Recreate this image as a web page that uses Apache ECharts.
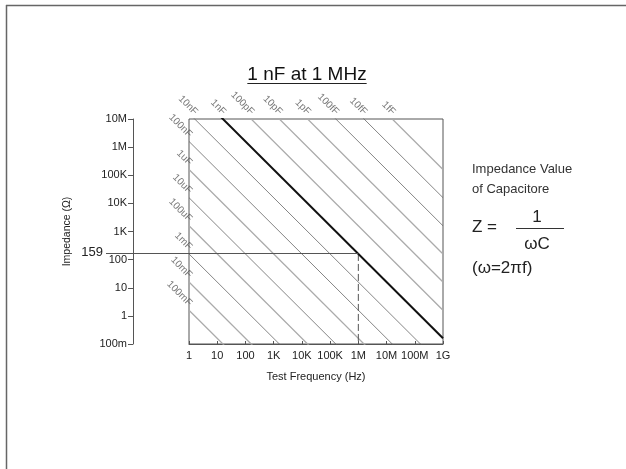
<!DOCTYPE html>
<html>
<head>
<meta charset="utf-8">
<script src="https://cdn.jsdelivr.net/npm/echarts@6/dist/echarts.min.js"></script>
<style>
  html, body { margin: 0; padding: 0; background: #fff; }
  #chart { width: 626px; height: 469px; }
</style>
</head>
<body>
<div id="chart"></div>
<script>
// ---- data ----
const titleText = '1 nF at 1 MHz';
const xTickLabels = ['1', '10', '100', '1K', '10K', '100K', '1M', '10M', '100M', '1G'];
const yTickLabels = ['100m', '1', '10', '100', '1K', '10K', '100K', '1M', '10M'];
const freqRange = [1, 1e9];
const impedanceRange = [0.1, 1e7];
const capValues = [1e-15, 1e-14, 1e-13, 1e-12, 1e-11, 1e-10, 1e-9, 1e-8, 1e-7, 1e-6, 1e-5, 1e-4, 1e-3, 1e-2, 1e-1];
const capLabels = ['1fF', '10fF', '100fF', '1pF', '10pF', '100pF', '1nF', '10nF', '100nF', '1uF', '10uF', '100uF', '1mF', '10mF', '100mF'];
const capTone = ['light', 'dark', 'dark', 'light', 'light', 'light', 'bold', 'dark', 'dark', 'light', 'dark', 'light', 'dark', 'light', 'light'];
const markCap = 1e-9;      // 1 nF
const markFreq = 1e6;      // 1 MHz
const markLabel = '159';
const sideLines = ['Impedance Value', 'of Capacitore'];

// ---- helpers ----
const FONT = '"Liberation Sans", Arial, Helvetica, sans-serif';
function impedance(f, c) { return 1 / (2 * Math.PI * f * c); }

const toneStyle = {
  light: { color: '#ababab', width: 1.3 },
  dark: { color: '#666', width: 0.8 },
  bold: { color: '#111', width: 2 }
};

const series = [];
const labelPoints = [];
capValues.forEach(function (c, i) {
  series.push({
    type: 'line',
    data: [[freqRange[0], impedance(freqRange[0], c)], [freqRange[1], impedance(freqRange[1], c)]],
    symbol: 'none',
    clip: true,
    silent: true,
    lineStyle: { color: toneStyle[capTone[i]].color, width: toneStyle[capTone[i]].width },
    z: capTone[i] === 'bold' ? 5 : 2
  });
  const fTop = 1 / (2 * Math.PI * impedanceRange[1] * c);
  let pt;
  if (fTop >= freqRange[0]) pt = [fTop, impedanceRange[1]];
  else pt = [freqRange[0], impedance(freqRange[0], c)];
  labelPoints.push({ value: pt, name: capLabels[i] });
});

const markZ = impedance(markFreq, markCap);

series.push({
  type: 'scatter',
  data: labelPoints,
  symbolSize: 0,
  clip: false,
  silent: true,
  label: {
    show: true,
    formatter: function (p) { return p.name; },
    position: 'inside',
    rotate: -45,
    align: 'right',
    verticalAlign: 'bottom',
    offset: [-3, 0],
    fontFamily: FONT,
    fontSize: 10,
    color: '#555'
  },
  z: 6
});

series.push({
  type: 'line',
  data: [[markFreq, markZ], [markFreq, impedanceRange[0]]],
  symbol: 'none',
  silent: true,
  lineStyle: { color: '#555', width: 1, type: [7, 3] },
  z: 4
});

const chart = echarts.init(document.getElementById('chart'), null, { renderer: 'canvas' });

chart.setOption({
  animation: false,
  backgroundColor: '#fff',
  grid: {
    left: 189, top: 119, width: 254, height: 225,
    show: true, borderColor: '#555', borderWidth: 1, backgroundColor: 'transparent'
  },
  xAxis: {
    type: 'log', logBase: 10, min: freqRange[0], max: freqRange[1],
    axisLine: { show: true, lineStyle: { color: '#555', width: 1 } },
    axisTick: { show: true, inside: true, length: 3, lineStyle: { color: '#555' } },
    splitLine: { show: false },
    minorTick: { show: false },
    axisLabel: {
      margin: 6, fontFamily: FONT, fontSize: 11, color: '#222',
      formatter: function (v) { return xTickLabels[Math.round(Math.log10(v))]; }
    },
    name: 'Test Frequency (Hz)', nameLocation: 'middle', nameGap: 27,
    nameTextStyle: { fontFamily: FONT, fontSize: 11, color: '#222' }
  },
  yAxis: {
    type: 'log', logBase: 10, min: impedanceRange[0], max: impedanceRange[1],
    position: 'left', offset: 56,
    axisLine: { show: true, lineStyle: { color: '#555', width: 1 } },
    axisTick: { show: true, inside: false, length: 5, lineStyle: { color: '#555' } },
    splitLine: { show: false },
    minorTick: { show: false },
    axisLabel: {
      margin: 6, fontFamily: FONT, fontSize: 11, color: '#222',
      formatter: function (v) { return yTickLabels[Math.round(Math.log10(v)) + 1]; }
    },
    name: 'Impedance (\u03a9)', nameLocation: 'middle', nameGap: 60, nameRotate: 90,
    nameTextStyle: { fontFamily: FONT, fontSize: 10.5, color: '#222' }
  },
  series: series
});

const pMark = chart.convertToPixel({ gridIndex: 0 }, [markFreq, markZ]);

const TITLE_FONT = '19px ' + FONT;
const cv = document.createElement('canvas').getContext('2d');
cv.font = TITLE_FONT;
const titleW = cv.measureText(titleText).width;
const titleX = 307, titleY = 75;

chart.setOption({
  graphic: [
    { type: 'line', shape: { x1: 6, y1: 5.5, x2: 626, y2: 5.5 }, style: { stroke: '#666', lineWidth: 1.5 }, silent: true },
    { type: 'line', shape: { x1: 6.5, y1: 5, x2: 6.5, y2: 469 }, style: { stroke: '#666', lineWidth: 1.5 }, silent: true },
    { type: 'text', x: titleX, y: titleY, style: { text: titleText, font: TITLE_FONT, fill: '#111', align: 'center', verticalAlign: 'middle' }, silent: true },
    { type: 'line', shape: { x1: titleX - titleW / 2, y1: titleY + 8.5, x2: titleX + titleW / 2, y2: titleY + 8.5 }, style: { stroke: '#222', lineWidth: 1 }, silent: true },
    { type: 'line', shape: { x1: 106, y1: Math.round(pMark[1]) - 0.5, x2: pMark[0], y2: Math.round(pMark[1]) - 0.5 }, style: { stroke: '#555', lineWidth: 1 }, silent: true, z: 10 },
    { type: 'text', x: 103, y: pMark[1] - 2, style: { text: markLabel, font: '13px ' + FONT, fill: '#222', align: 'right', verticalAlign: 'middle' }, silent: true },
    { type: 'text', x: 472, y: 169.5, style: { text: sideLines[0], font: '13px ' + FONT, fill: '#333', align: 'left', verticalAlign: 'middle' }, silent: true },
    { type: 'text', x: 472, y: 189.5, style: { text: sideLines[1], font: '13px ' + FONT, fill: '#333', align: 'left', verticalAlign: 'middle' }, silent: true },
    { type: 'text', x: 472, y: 227.5, style: { text: 'Z =', font: '17px ' + FONT, fill: '#222', align: 'left', verticalAlign: 'middle' }, silent: true },
    { type: 'text', x: 537, y: 217, style: { text: '1', font: '17px ' + FONT, fill: '#222', align: 'center', verticalAlign: 'middle' }, silent: true },
    { type: 'line', shape: { x1: 516, y1: 228.5, x2: 564, y2: 228.5 }, style: { stroke: '#333', lineWidth: 1 }, silent: true },
    { type: 'text', x: 537, y: 244, style: { text: '\u03c9C', font: '17px ' + FONT, fill: '#222', align: 'center', verticalAlign: 'middle' }, silent: true },
    { type: 'text', x: 472, y: 268.5, style: { text: '(\u03c9=2\u03c0f)', font: '17px ' + FONT, fill: '#222', align: 'left', verticalAlign: 'middle' }, silent: true }
  ]
});
</script>
</body>
</html>
